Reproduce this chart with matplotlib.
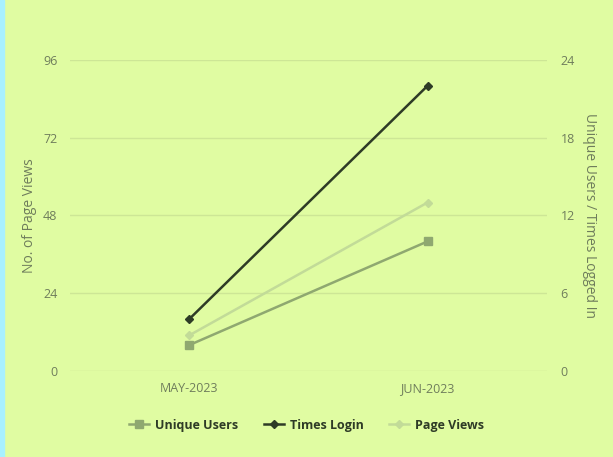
import matplotlib.pyplot as plt
from matplotlib.patches import Rectangle

months = ["MAY-2023", "JUN-2023"]
unique_users = [2, 10]
times_login = [4, 22]
page_views = [11, 52]

left_ticks = [0, 24, 48, 72, 96]
right_ticks = [0, 6, 12, 18, 24]

bg = "#e0fca2"
tick_color = "#6f7d5c"
plt.rcParams["font.family"] = ["Open Sans", "DejaVu Sans"]

fig = plt.figure(figsize=(6.13, 4.57), dpi=100, facecolor=bg)
ax = fig.add_axes([0.114, 0.188, 0.778, 0.681])
ax.set_facecolor(bg)
ax2 = ax.twinx()

x = list(range(len(months)))
l3, = ax.plot(x, page_views, color="#c2db98", lw=1.8, marker="D", ms=4.5, label="Page Views", zorder=3)
l1, = ax2.plot(x, unique_users, color="#8fa870", lw=1.8, marker="s", ms=6, label="Unique Users", zorder=3)
l2, = ax2.plot(x, times_login, color="#2e3b26", lw=1.8, marker="D", ms=4.5, label="Times Login", zorder=4)

ax.set_xlim(-0.5, 1.5)
ax.set_ylim(0, 96)
ax2.set_ylim(0, 24)
ax.set_yticks(left_ticks)
ax2.set_yticks(right_ticks)
ax.set_xticks(x)
ax.set_xticklabels(months)

ax.grid(axis="y", color="#cde696", lw=1)
ax.set_axisbelow(True)
for a in (ax, ax2):
    for s in a.spines.values():
        s.set_visible(False)
    a.tick_params(length=0, colors=tick_color, labelsize=9)
ax.tick_params(axis="y", pad=9)
ax2.tick_params(axis="y", pad=10)
ax.tick_params(axis="x", pad=8)

ax.set_ylabel("No. of Page Views", color=tick_color, fontsize=10, labelpad=4)
ax2.set_ylabel("Unique Users / Times Logged In", color=tick_color, fontsize=10,
               rotation=270, labelpad=16)

leg = fig.legend(handles=[l1, l2, l3], loc="center", bbox_to_anchor=(0.5, 0.07),
                 ncol=3, frameon=False, fontsize=9, handlelength=1.6,
                 columnspacing=2.0, handletextpad=0.5)
for t in leg.get_texts():
    t.set_fontweight("bold")
    t.set_color("#2e3b26")

# thin cyan strip at the left edge
fig.patches.append(Rectangle((0, 0), 4 / 613, 1, transform=fig.transFigure,
                             color="#a8f0ff", zorder=0))

fig.savefig("out.png", dpi=100, facecolor=bg)
